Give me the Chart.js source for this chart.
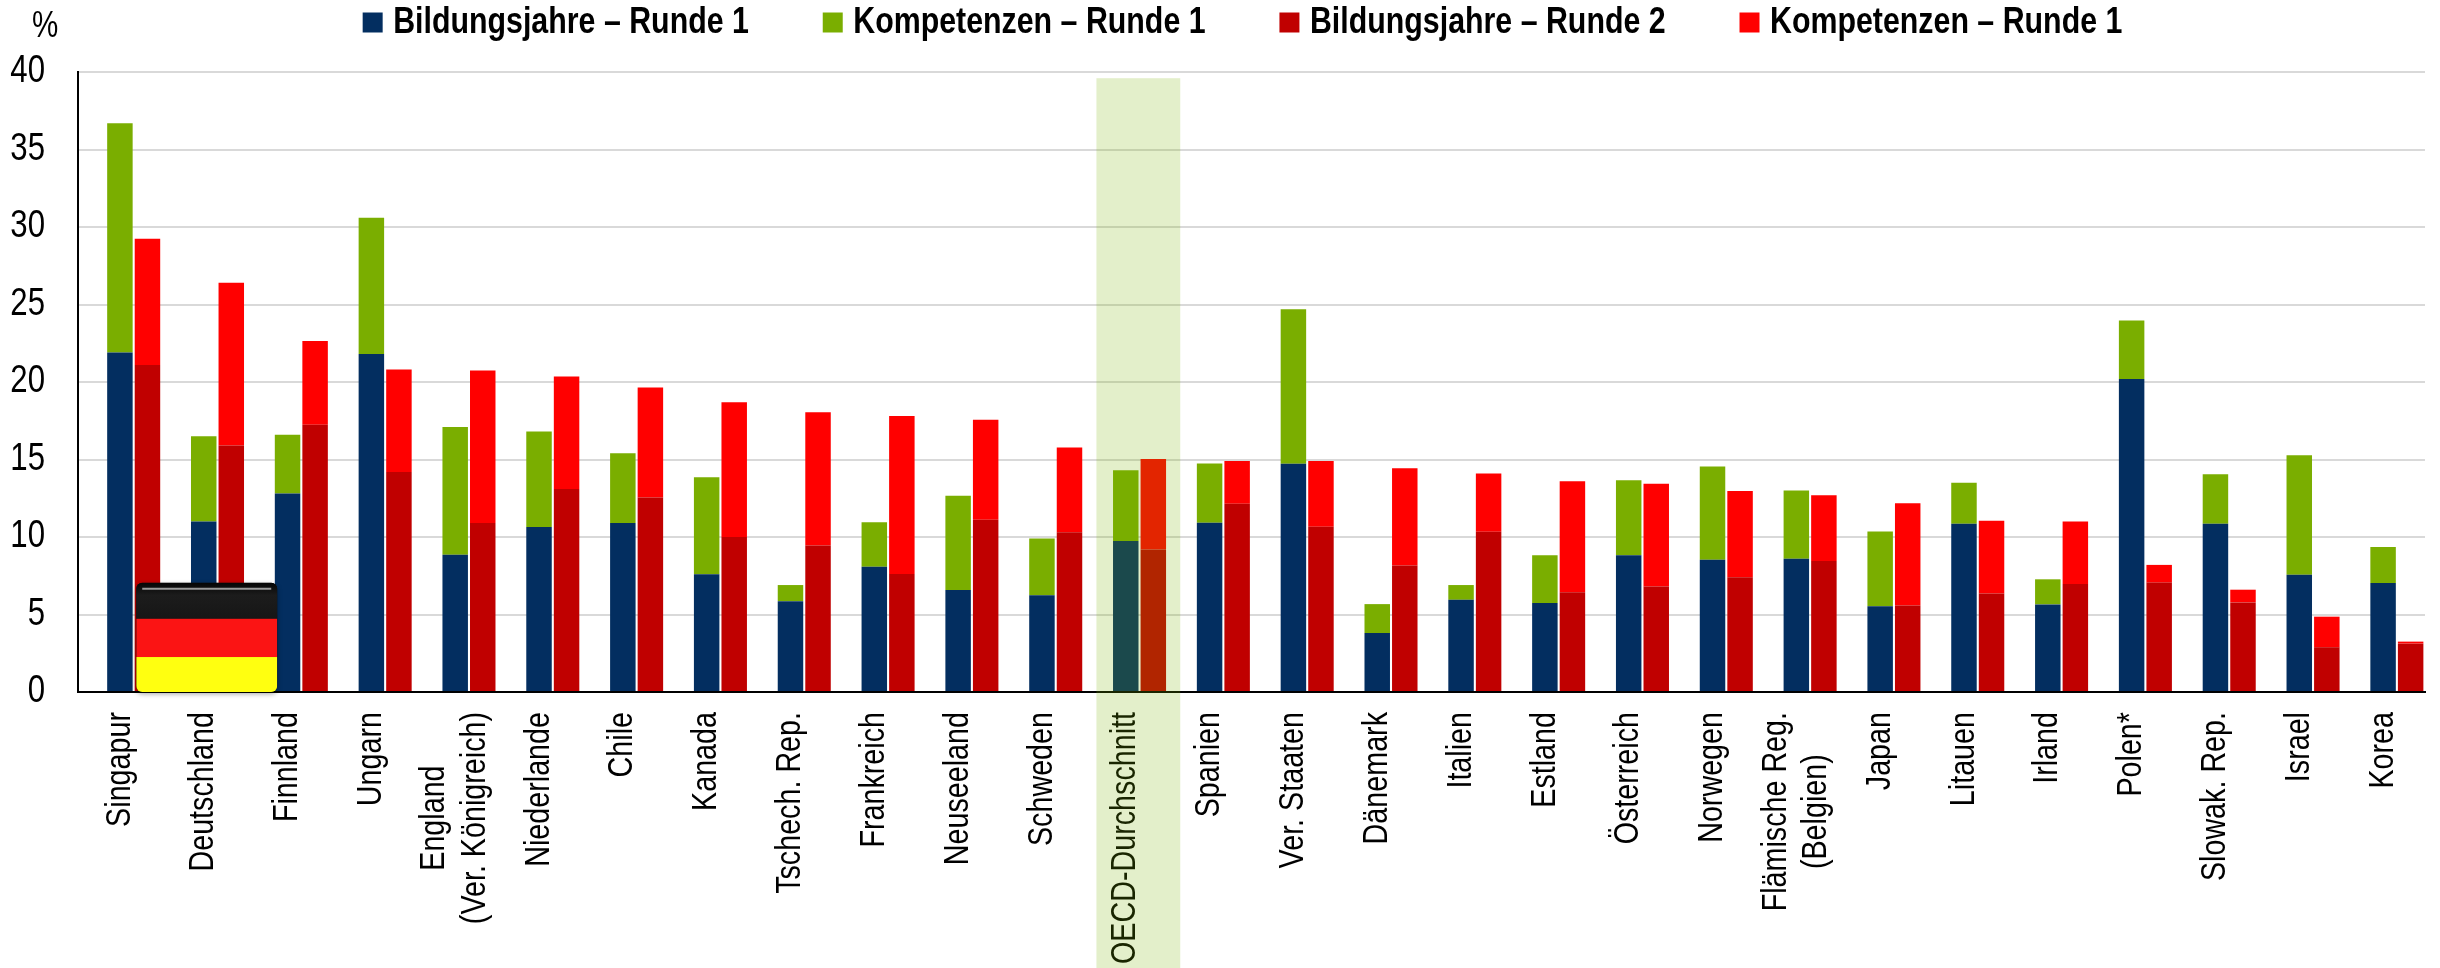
<!DOCTYPE html>
<html lang="de">
<head>
<meta charset="utf-8">
<title>Chart</title>
<style>html,body{margin:0;padding:0;background:#fff}canvas{display:block}</style>
<script src="https://cdn.jsdelivr.net/npm/chart.js@4/dist/chart.umd.min.js"></script>
</head>
<body>
<canvas id="c" width="2440" height="968"></canvas>
<script>
const categories = ["Singapur","Deutschland","Finnland","Ungarn",["England","(Ver. Königreich)"],"Niederlande","Chile","Kanada","Tschech. Rep.","Frankreich","Neuseeland","Schweden","OECD-Durchschnitt","Spanien","Ver. Staaten","Dänemark","Italien","Estland","Österreich","Norwegen",["Flämische Reg.","(Belgien)"],"Japan","Litauen","Irland","Polen*","Slowak. Rep.","Israel","Korea"];
const bildungR1 = [21.9,11,12.8,21.8,8.85,10.65,10.9,7.6,5.86,8.08,6.58,6.25,9.75,10.92,14.72,3.8,5.95,5.75,8.82,8.53,8.6,5.54,10.86,5.65,20.2,10.86,7.57,7.03];
const kompetenzR1 = [14.8,5.5,3.8,8.8,8.25,6.15,4.5,6.25,1.04,2.87,6.08,3.65,4.55,3.83,9.98,1.87,0.95,3.07,4.84,6.02,4.4,4.82,2.64,1.62,3.76,3.19,7.7,2.32];
const bildungR2 = [21.1,15.9,17.25,14.2,10.9,13.1,12.55,10,9.45,7.62,11.12,10.3,9.19,12.14,10.66,8.16,10.34,6.43,6.8,7.4,8.45,5.58,6.36,6.97,7.06,5.78,2.88,3.12];
const kompetenzR2 = [8.15,10.5,5.4,6.6,9.85,7.25,7.1,8.7,8.6,10.18,6.44,5.47,5.84,2.76,4.24,6.28,3.76,7.17,6.64,5.56,4.25,6.6,4.69,4.03,1.14,0.82,1.98,0.13];
const legendNames = ["Bildungsjahre – Runde 1","Kompetenzen – Runde 1","Bildungsjahre – Runde 2","Kompetenzen – Runde 1"];
const unitLabel = "%";
const FONT = '"Liberation Sans",Arial,sans-serif';
const NB = "\u00A0";
const LABEL_SIZE = 35, LABEL_LINE = 1.17;
const TEXT_SQUEEZE = 0.82; // the reference's type is condensed along the text direction

const canvas = document.getElementById("c");
const ctx2d = canvas.getContext("2d");
const rawFill = ctx2d.fillText.bind(ctx2d);
const rawMeasure = ctx2d.measureText.bind(ctx2d);
// Two-line category labels: centre the lines on each other and the block on the tick
const lineShift = {};
function squeezedText(t, x, y) {
  const s = lineShift[t] || {dx: 0, dy: 0};
  ctx2d.save();
  ctx2d.translate(x + s.dx, y + s.dy);
  ctx2d.scale(TEXT_SQUEEZE, 1);
  rawFill(t, 0, 0);
  ctx2d.restore();
}
ctx2d.fillText = squeezedText;
ctx2d.measureText = t => ({width: rawMeasure(t).width * TEXT_SQUEEZE});
ctx2d.font = LABEL_SIZE + "px " + FONT;
categories.filter(Array.isArray).forEach(lines => {
  const w = lines.map(l => ctx2d.measureText(l).width), m = Math.max(...w);
  lines.forEach((l, i) => { lineShift[l] = {dx: -(m - w[i]) / 2, dy: -LABEL_SIZE * LABEL_LINE / 2}; });
});

const overlay = {
  id: "overlay",
  afterLayout(chart) {
    const l = chart.legend;
    l.left += 34; l.right += 34; l.top -= 21; l.bottom -= 21;
  },
  afterDraw(chart) {
    const {ctx, scales:{x, y}} = chart;
    const pitch = x.getPixelForValue(1) - x.getPixelForValue(0);
    // Flag over the Deutschland group
    const fx = x.getPixelForValue(1) - 67.5, fw = 141;
    const fb = y.getPixelForValue(0), ft = y.getPixelForValue(7.05), fh = fb - ft;
    ctx.save();
    ctx.shadowColor = "rgba(0,0,0,.35)"; ctx.shadowBlur = 5; ctx.shadowOffsetY = 2;
    ctx.fillStyle = "#111";
    ctx.beginPath(); ctx.roundRect(fx, ft, fw, fh, 6); ctx.fill();
    ctx.restore();
    ctx.save();
    ctx.beginPath(); ctx.roundRect(fx, ft, fw, fh, 6); ctx.clip();
    const g = ctx.createLinearGradient(0, ft, 0, ft + fh * .33);
    g.addColorStop(0, "#050505"); g.addColorStop(.35, "#1c1c1c"); g.addColorStop(1, "#161616");
    ctx.fillStyle = g; ctx.fillRect(fx, ft, fw, fh * .33);
    ctx.fillStyle = "#FB1414"; ctx.fillRect(fx, ft + fh * .33, fw, fh * .35);
    ctx.fillStyle = "#FFFF10"; ctx.fillRect(fx, ft + fh * .68, fw, fh * .32);
    ctx.strokeStyle = "rgba(170,170,170,.9)"; ctx.lineWidth = 2;
    ctx.beginPath(); ctx.moveTo(fx + 6, ft + 6); ctx.lineTo(fx + fw - 6, ft + 6); ctx.stroke();
    ctx.restore();
    // Highlight band for the OECD average
    const bx = x.getPixelForValue(12) + pitch * 0.15 - pitch / 2;
    ctx.save();
    ctx.fillStyle = "rgba(119,177,2,0.206)";
    const bt = y.getPixelForValue(39.6);
    ctx.fillRect(bx, bt, pitch, chart.height - bt);
    ctx.restore();
    // Unit label
    ctx.save();
    ctx.fillStyle = "#000"; ctx.textAlign = "center"; ctx.textBaseline = "middle";
    ctx.font = "36px " + FONT;
    ctx.fillText(unitLabel, 45, 27);
    ctx.restore();
  }
};

new Chart(canvas, {
  type: "bar",
  data: {
    labels: categories,
    datasets: [
      {label: "", data: categories.map(() => null), stack: "spacer", backgroundColor: "rgba(0,0,0,0)"},
      {label: legendNames[0], data: bildungR1, stack: "r1", backgroundColor: "#032E60"},
      {label: legendNames[1], data: kompetenzR1, stack: "r1", backgroundColor: "#7AAE00"},
      {label: legendNames[2], data: bildungR2, stack: "r2", backgroundColor: "#C00000"},
      {label: legendNames[3], data: kompetenzR2, stack: "r2", backgroundColor: "#FF0000"}
    ]
  },
  plugins: [overlay],
  options: {
    responsive: false,
    animation: false,
    events: [],
    categoryPercentage: 0.986,
    barPercentage: 0.925,
    layout: {autoPadding: false, padding: {top: 19, right: 15, left: 0, bottom: 0}},
    plugins: {
      tooltip: {enabled: false},
      title: {display: false},
      legend: {
        display: true,
        position: "top",
        labels: {
          boxWidth: 4, boxHeight: 4, padding: 6,
          color: "#000",
          font: {family: FONT, size: 37, weight: "bold"},
          generateLabels(chart) {
            return Chart.defaults.plugins.legend.labels.generateLabels(chart)
              .filter(i => i.text !== "")
              .map((i, k) => {
                i.text = i.text + (k < 3 ? NB.repeat(9) : "");
                i.lineWidth = 16; i.strokeStyle = i.fillStyle;
                return i;
              });
          }
        }
      }
    },
    scales: {
      x: {
        stacked: true,
        grid: {display: false},
        border: {display: true, color: "#000", width: 2},
        afterFit(s) { s.height = 276; },
        ticks: {
          autoSkip: false, minRotation: 90, maxRotation: 90, padding: 12,
          color: "#000",
          font: {family: FONT, size: LABEL_SIZE, lineHeight: LABEL_LINE}
        }
      },
      y: {
        stacked: true,
        min: 0, max: 40,
        afterFit(s) { s.width = 78; },
        grid: {color: "#D9D9D9", lineWidth: 2, drawTicks: false},
        border: {display: true, color: "#000", width: 2},
        ticks: {stepSize: 5, padding: 33, color: "#000", font: {family: FONT, size: 38}}
      }
    }
  }
});
</script>
</body>
</html>
